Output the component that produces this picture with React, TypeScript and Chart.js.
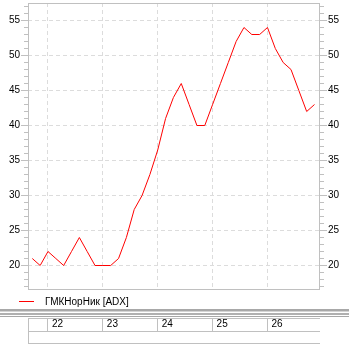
import React, { useEffect, useRef } from 'react';
import { Chart, registerables } from 'chart.js';

Chart.register(...registerables);

// ---- data ----
const seriesName = 'ГМКНорНик [ADX]';
const dayLabels = [
  '21', '21',
  '22', '22', '22', '22', '22', '22', '22',
  '23', '23', '23', '23', '23', '23', '23',
  '24', '24', '24', '24', '24', '24', '24',
  '25', '25', '25', '25', '25', '25', '25',
  '26', '26', '26', '26', '26', '26', '26',
];
const adxValues = [
  21, 20,
  22, 21, 20, 22, 24, 22, 20,
  20, 20, 21, 24, 28, 30, 33,
  36.5, 41, 44, 46, 43, 40, 40,
  43, 46, 49, 52, 54, 53, 53,
  54, 51, 49, 48, 45, 42, 43,
];
const yMajorTicks = [20, 25, 30, 35, 40, 45, 50, 55];
const yMin = 16.5;
const yMax = 57.5;

const FONT = '"Liberation Sans", Arial, sans-serif';
const AXIS = '#c0c0c0';
const GRID = '#dcdcdc';

const dayStarts = dayLabels
  .map((d, i) => (i > 0 && d !== dayLabels[i - 1] ? i : -1))
  .filter((i) => i >= 0);

const align = (p: number) => Math.round(p - 0.5) + 0.5;

const decorPlugin = {
  id: 'decor',
  afterDraw(chart: any) {
    const { ctx, chartArea } = chart;
    const ys = chart.scales.y;
    const xs = chart.scales.x;
    const { left, right, top, bottom } = chartArea;
    ctx.save();
    ctx.lineWidth = 1;
    ctx.strokeStyle = AXIS;
    // frame
    ctx.strokeRect(left + 0.5, top + 0.5, right - left - 1, bottom - top - 1);
    // minor ticks
    ctx.beginPath();
    for (let v = Math.ceil(yMin); v <= Math.floor(yMax); v++) {
      if (v % 5 === 0) continue;
      const y = align(ys.getPixelForValue(v));
      ctx.moveTo(left - 4, y);
      ctx.lineTo(left, y);
      ctx.moveTo(right, y);
      ctx.lineTo(right + 4, y);
    }
    ctx.stroke();

    // legend
    ctx.strokeStyle = '#ff0000';
    ctx.beginPath();
    ctx.moveTo(19, 301.5);
    ctx.lineTo(34, 301.5);
    ctx.stroke();
    ctx.fillStyle = '#000';
    ctx.font = `10px ${FONT}`;
    ctx.textBaseline = 'alphabetic';
    ctx.textAlign = 'left';
    ctx.fillText(seriesName, 45, 305);

    // separator
    const w = chart.width;
    ctx.fillStyle = '#a8a8a8';
    ctx.fillRect(0, 309, w, 2);
    ctx.fillStyle = '#d4d4d4';
    ctx.fillRect(0, 311, w, 1);
    ctx.fillStyle = '#b0b0b0';
    ctx.fillRect(0, 313, w, 2);
    ctx.fillStyle = '#a8a8a8';
    ctx.fillRect(0, 316, w, 1);

    // bottom date panel
    ctx.strokeStyle = AXIS;
    ctx.beginPath();
    ctx.moveTo(left, 318.5);
    ctx.lineTo(right, 318.5);
    ctx.moveTo(left, 331.5);
    ctx.lineTo(right, 331.5);
    ctx.moveTo(left, 343.5);
    ctx.lineTo(right, 343.5);
    ctx.moveTo(left + 0.5, 318);
    ctx.lineTo(left + 0.5, 344);
    dayStarts.forEach((i) => {
      const x = align(xs.getPixelForValue(i));
      ctx.moveTo(x, 318);
      ctx.lineTo(x, 331);
    });
    ctx.stroke();
    ctx.restore();
  },
};

export default function App() {
  const ref = useRef<HTMLCanvasElement | null>(null);
  useEffect(() => {
    if (!ref.current) return;
    Chart.defaults.font.family = FONT;
    const chart = new Chart(ref.current, {
      type: 'line',
      data: {
        datasets: [
          {
            label: seriesName,
            data: adxValues.map((v, i) => ({ x: i, y: v })),
            borderColor: '#ff0000',
            borderWidth: 1,
            pointRadius: 0,
            tension: 0,
            fill: false,
          },
        ],
      },
      options: {
        animation: false,
        responsive: false,
        maintainAspectRatio: false,
        layout: { padding: { top: 3, left: 0, right: 0, bottom: 0 } },
        plugins: { legend: { display: false }, tooltip: { enabled: false } },
        scales: {
          x: {
            type: 'linear',
            position: 'bottom',
            min: -0.55,
            max: 36.7,
            afterBuildTicks: (s: any) => {
              s.ticks = dayStarts.map((v) => ({ value: v }));
            },
            afterFit: (s: any) => {
              s.height = 57;
              s.paddingLeft = 0;
              s.paddingRight = 0;
            },
            grid: { color: GRID, lineWidth: 1, drawTicks: false },
            border: { display: false, dash: [4, 3] },
            ticks: {
              callback: (v: any) => dayLabels[v],
              align: 'start',
              labelOffset: 4,
              padding: 28,
              maxRotation: 0,
              minRotation: 0,
              autoSkip: false,
              color: '#000',
              font: { size: 10, family: FONT },
            },
          },
          y: {
            type: 'linear',
            position: 'left',
            min: yMin,
            max: yMax,
            afterBuildTicks: (s: any) => {
              s.ticks = yMajorTicks.map((v) => ({ value: v }));
            },
            afterFit: (s: any) => {
              s.width = 28;
              s.paddingTop = 0;
              s.paddingBottom = 0;
            },
            grid: { color: GRID, tickColor: AXIS, tickLength: 7, lineWidth: 1 },
            border: { display: false, dash: [4, 3] },
            ticks: { padding: 1, color: '#000', font: { size: 10, family: FONT } },
          },
          y2: {
            type: 'linear',
            position: 'right',
            min: yMin,
            max: yMax,
            afterBuildTicks: (s: any) => {
              s.ticks = yMajorTicks.map((v) => ({ value: v }));
            },
            afterFit: (s: any) => {
              s.width = 29;
              s.paddingTop = 0;
              s.paddingBottom = 0;
            },
            grid: { drawOnChartArea: false, tickColor: AXIS, tickLength: 7 },
            border: { display: false },
            ticks: { padding: 1, color: '#000', font: { size: 10, family: FONT } },
          },
        },
      } as any,
      plugins: [decorPlugin],
    });
    return () => chart.destroy();
  }, []);
  return (
    <div style={{ position: 'absolute', left: 0, top: 0, width: 349, height: 347, background: '#fff' }}>
      <canvas ref={ref} width={349} height={347} style={{ width: 349, height: 347, display: 'block' }} />
    </div>
  );
}
